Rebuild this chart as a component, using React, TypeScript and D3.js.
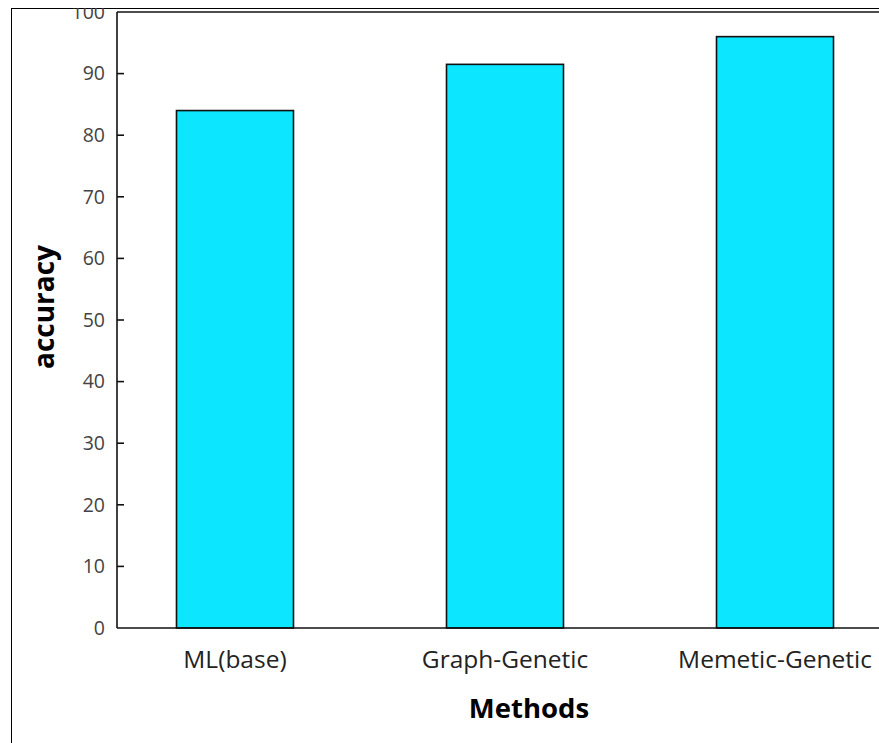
import React from "react";
import * as d3 from "d3";

// Accuracy per method
const methods: string[] = ["ML(base)", "Graph-Genetic", "Memetic-Genetic"];
const accuracy: number[] = [84, 91.5, 96];
const yTicks: number[] = [0, 10, 20, 30, 40, 50, 60, 70, 80, 90, 100];

const WIDTH = 879;
const HEIGHT = 743;
const FONT = "'Open Sans', 'Noto Sans', sans-serif";

export default function App() {
  const plotLeft = 117;
  const plotTop = 12;
  const plotBottom = 628;

  const y = d3.scaleLinear().domain([0, 100]).range([plotBottom, plotTop]);
  const x = d3
    .scaleBand<string>()
    .domain(methods)
    .range([100, 910])
    .paddingInner(0.5667)
    .paddingOuter(0.2833);

  return (
    <svg
      width={WIDTH}
      height={HEIGHT}
      style={{ position: "absolute", left: 0, top: 0, background: "#fff" }}
    >
      <defs>
        <clipPath id="frame">
          <rect x={11} y={8} width={WIDTH} height={HEIGHT} />
        </clipPath>
      </defs>

      {/* outer frame */}
      <line x1={11.5} x2={11.5} y1={8} y2={HEIGHT} stroke="#000" strokeWidth={1} />
      <line x1={11} x2={WIDTH} y1={8.5} y2={8.5} stroke="#000" strokeWidth={1} />

      <g clipPath="url(#frame)">
        {/* bars */}
        {methods.map((m, i) => (
          <rect
            key={m}
            x={x(m)!}
            y={y(accuracy[i])}
            width={x.bandwidth()}
            height={y(0) - y(accuracy[i])}
            fill="#0de6ff"
            stroke="#111"
            strokeWidth={1.6}
          />
        ))}

        {/* axes */}
        <line x1={plotLeft} x2={WIDTH} y1={plotTop} y2={plotTop} stroke="#111" strokeWidth={1.6} />
        <line x1={plotLeft} x2={plotLeft} y1={plotTop} y2={plotBottom} stroke="#111" strokeWidth={1.6} />
        <line x1={plotLeft} x2={WIDTH} y1={plotBottom} y2={plotBottom} stroke="#111" strokeWidth={1.6} />

        {/* y ticks */}
        {yTicks.map((t) => (
          <g key={t}>
            {t > 0 && t < 100 && (
              <line x1={plotLeft} x2={plotLeft + 7} y1={y(t)} y2={y(t)} stroke="#111" strokeWidth={1.6} />
            )}
            <text
              x={105}
              y={y(t)}
              dy="0.35em"
              textAnchor="end"
              fontFamily={FONT}
              fontSize={19.5}
              fill="#444"
            >
              {t}
            </text>
          </g>
        ))}

        {/* x tick labels */}
        {methods.map((m) => (
          <text
            key={m}
            x={x(m)! + x.bandwidth() / 2}
            y={668}
            textAnchor="middle"
            fontFamily={FONT}
            fontSize={24.5}
            fill="#222"
          >
            {m}
          </text>
        ))}

        {/* axis titles */}
        <text
          x={529}
          y={718}
          textAnchor="middle"
          fontFamily={FONT}
          fontSize={27.5}
          fontWeight="bold"
          fill="#000"
        >
          Methods
        </text>
        <text
          transform={`translate(54,307) rotate(-90)`}
          textAnchor="middle"
          fontFamily={FONT}
          fontSize={28}
          fontWeight="bold"
          fill="#000"
        >
          accuracy
        </text>
      </g>
    </svg>
  );
}
